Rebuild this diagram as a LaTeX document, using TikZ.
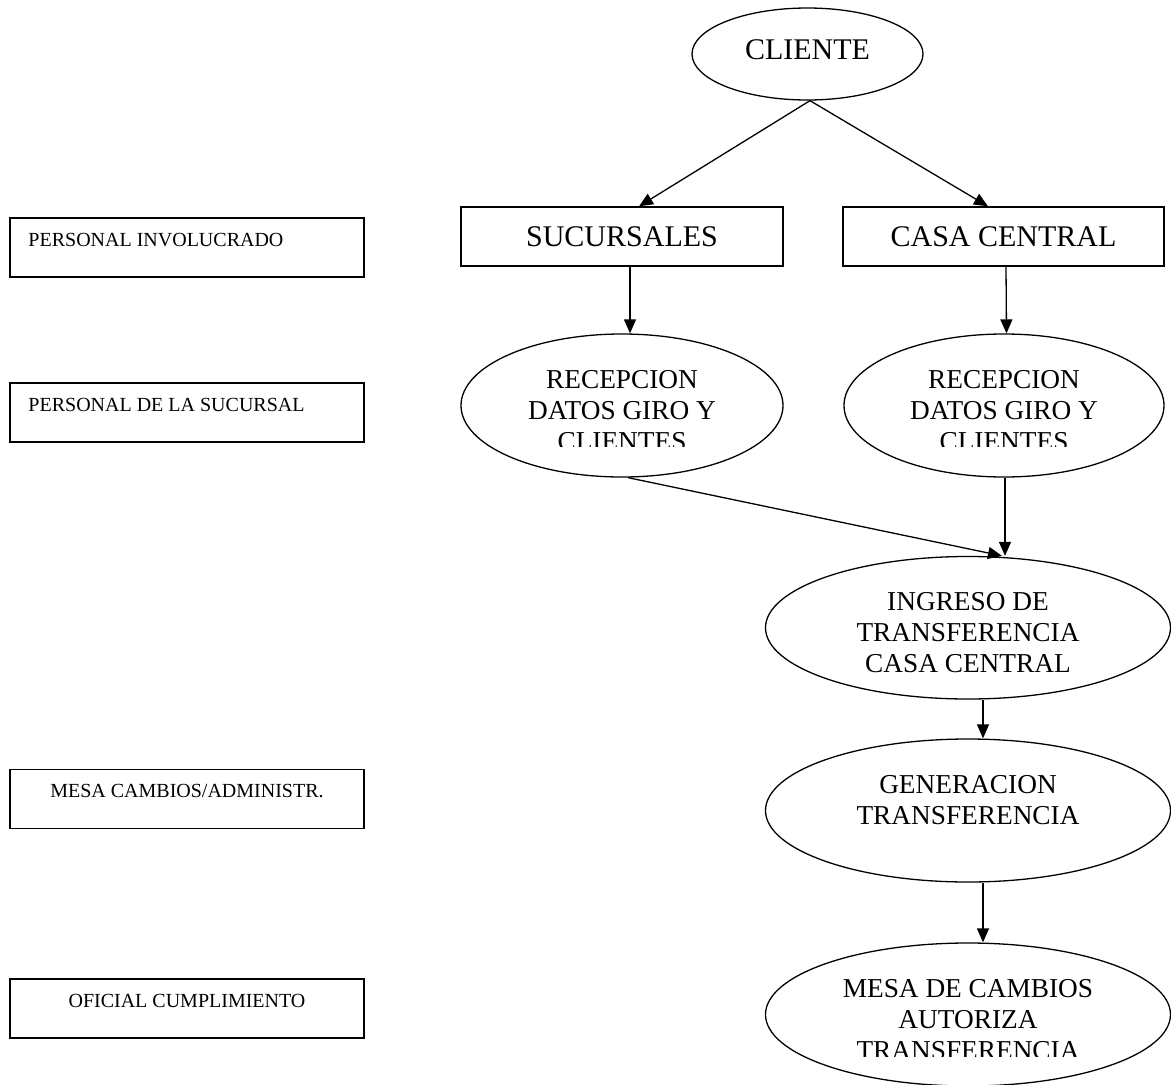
\documentclass[tikz,border=0pt]{standalone}
\usepackage{fontspec}
\setmainfont{Liberation Serif}
\usetikzlibrary{shapes.geometric,arrows.meta,calc}
\begin{document}
\begin{tikzpicture}[x=1pt,y=-1pt,
  ell/.style={draw, ellipse, line width=1.3pt, inner sep=0pt},
  bx/.style={draw, rectangle, line width=1.4pt, inner sep=0pt},
  lbx/.style={draw, rectangle, line width=1.5pt, inner sep=0pt, minimum width=354pt, minimum height=59pt},
  big/.style={font=\fontsize{30}{34}\selectfont, inner sep=0pt},
  etxt/.style={font=\fontsize{27.3}{31}\selectfont, align=center, inner sep=0pt, anchor=north},
  ltxt/.style={font=\fontsize{20}{24}\selectfont, inner sep=0pt},
  arr/.style={line width=1.3pt, -{Triangle[length=14pt,width=12pt]}}]
\useasboundingbox (0,0) rectangle (1171,1085);

% top
\node[ell, minimum width=231pt, minimum height=92pt] (cli) at (807.5,54) {};
\node[big] (clit) at (807.5,50) {CLIENTE};
\node[bx, big, minimum width=322pt, minimum height=59pt] (suc) at (622,236.5) {SUCURSALES};
\node[bx, big, minimum width=321pt, minimum height=59pt] (casa) at (1003.5,236.5) {CASA CENTRAL};

% ellipses
\node[ell, minimum width=322pt, minimum height=143pt] (rec1) at (622,405.5) {};
\node[ell, minimum width=320pt, minimum height=143pt] (rec2) at (1004,405.5) {};
\node[ell, minimum width=405pt, minimum height=142.5pt] (ing) at (968,627.75) {};
\node[ell, minimum width=405pt, minimum height=143pt] (gen) at (968,810.5) {};
\node[ell, minimum width=405pt, minimum height=143pt] (mesa) at (968,1014.5) {};

\begin{scope}
\clip (450,300) rectangle (800,446.5);
\node[etxt] (rec1t) at (622,370) {RECEPCION\\DATOS GIRO Y\\CLIENTES};
\end{scope}
\begin{scope}
\clip (830,300) rectangle (1170,446.5);
\node[etxt] (rec2t) at (1004,370) {RECEPCION\\DATOS GIRO Y\\CLIENTES};
\end{scope}
\node[etxt] (ingt) at (968,592.5) {INGRESO DE\\TRANSFERENCIA\\CASA CENTRAL};
\node[etxt] (gent) at (968,775.5) {GENERACION\\TRANSFERENCIA};
\begin{scope}
\clip (760,940) rectangle (1171,1056.5);
\node[etxt] (mesat) at (968,979.5) {MESA DE CAMBIOS\\AUTORIZA\\TRANSFERENCIA};
\end{scope}

% connectors
\draw[arr] ([xshift=2.5pt]cli.south) -- ([xshift=17pt]suc.north);
\draw[arr] ([xshift=2.5pt]cli.south) -- ([xshift=-15.5pt]casa.north);
\draw[arr] ([xshift=8pt]suc.south) -- ([xshift=8pt]rec1.north);
\draw[arr] ([xshift=2.5pt]casa.south) -- ([xshift=2.5pt]rec2.north);
\draw[arr] ([xshift=6pt]rec1.south) -- ([xshift=34pt]ing.north);
\draw[arr] ([xshift=1pt]rec2.south) -- ([xshift=37pt]ing.north);
\draw[arr] ([xshift=15pt]ing.south) -- ([xshift=15pt]gen.north);
\draw[arr] ([xshift=15pt]gen.south) -- ([xshift=15pt]mesa.north);

% left labels
\node[lbx] (l1) at (187,247.5) {};
\node[lbx] (l2) at (187,412.5) {};
\node[lbx] (l3) at (187,799) {};
\node[lbx] (l4) at (187,1008.5) {};
\node[ltxt, anchor=base west] (l1t) at ($(l1.north west)+(19,29)$) {PERSONAL INVOLUCRADO};
\node[ltxt, anchor=base west] (l2t) at ($(l2.north west)+(19,29)$) {PERSONAL DE LA SUCURSAL};
\node[ltxt, anchor=base] (l3t) at ($(l3.north)+(0,29)$) {MESA CAMBIOS/ADMINISTR.};
\node[ltxt, anchor=base] (l4t) at ($(l4.north)+(0,29)$) {OFICIAL CUMPLIMIENTO};
\end{tikzpicture}
\end{document}
